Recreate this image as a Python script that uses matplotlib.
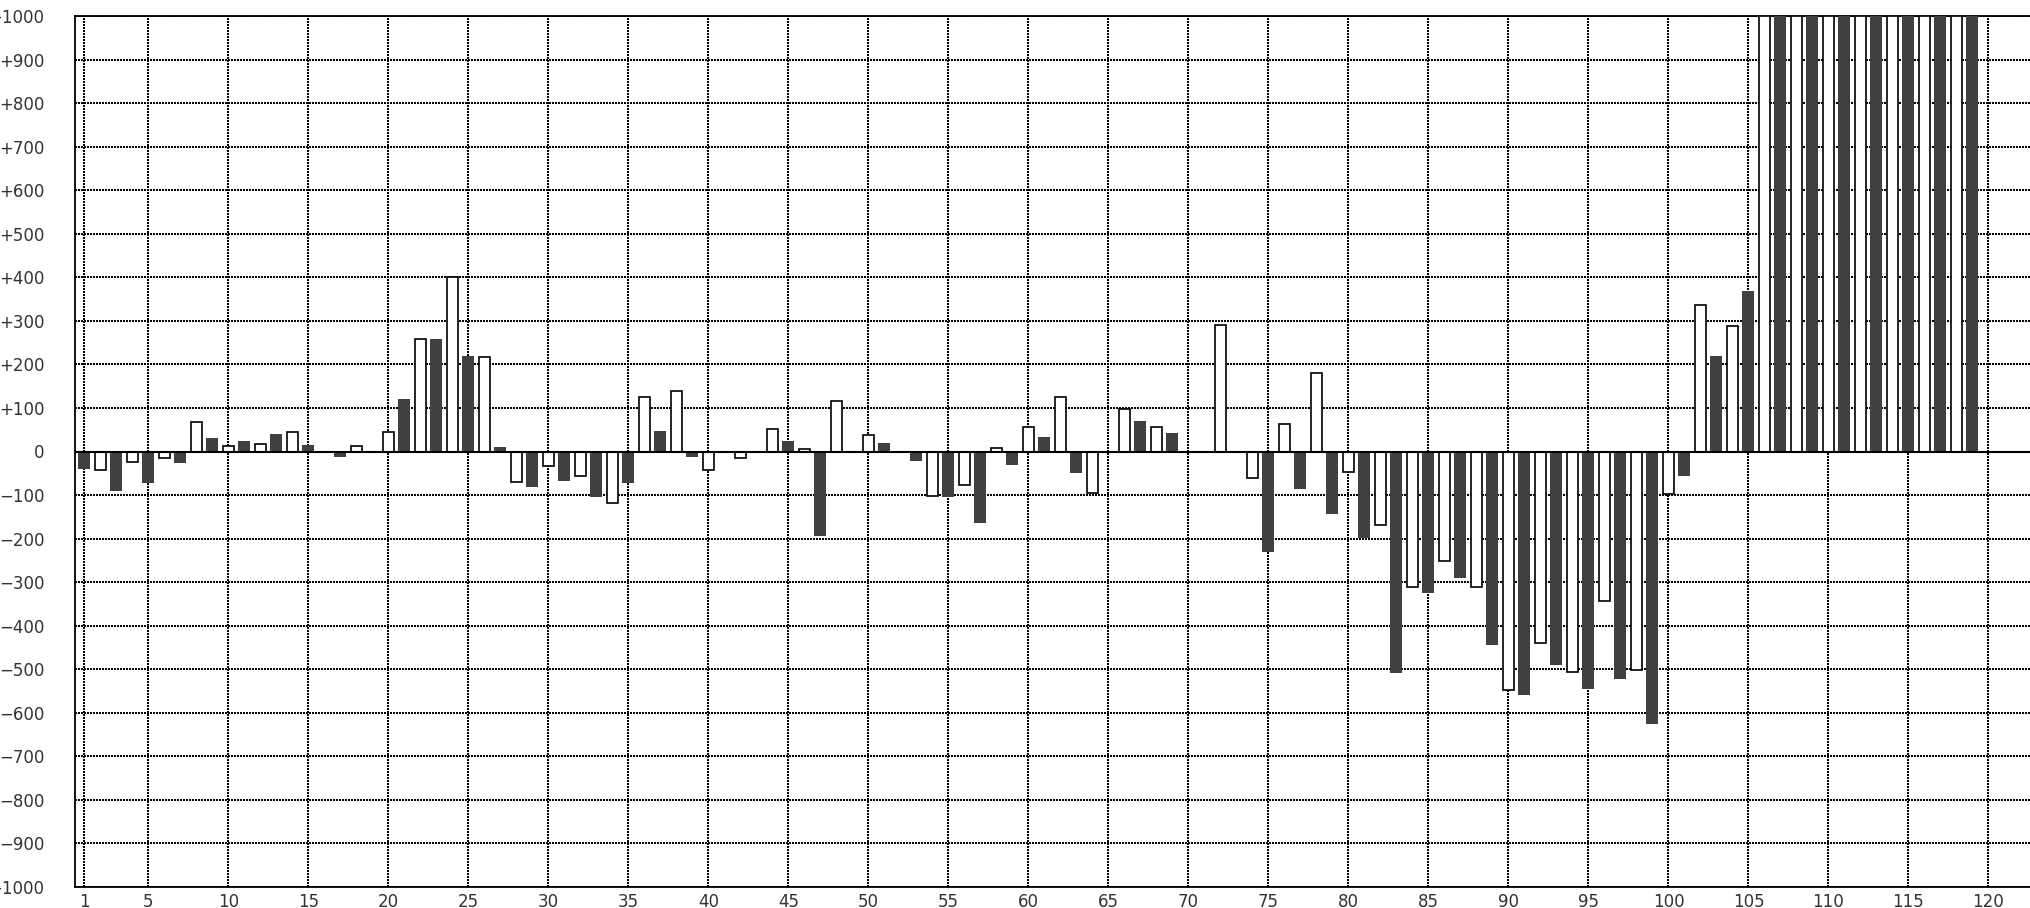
import numpy as np
import matplotlib
matplotlib.use("Agg")
import matplotlib.pyplot as plt
from matplotlib.ticker import FuncFormatter

# dark bars sit on odd positions, white (outlined) bars on even positions
dark_pos = list(range(1, 120, 2))
dark_vals = [-40, -91, -72, -27, 32, 23, 41, 14, -13, 0,
             121, 259, 220, 11, -81, -67, -105, -72, 48, -12,
             0, 0, 25, -193, 0, 20, -21, -105, -165, -30,
             34, -49, 0, 71, 43, 0, 0, -231, -85, -144,
             -199, -508, -326, -290, -445, -559, -491, -545, -522, -625,
             -57, 220, 369, 1000, 1000, 1000, 1000, 1000, 1000, 1000]

white_pos = list(range(2, 121, 2))
white_vals = [-42, -25, -15, 68, 12, 18, 45, 0, 13, 45,
              258, 400, 218, -71, -34, -57, -118, 126, 140, -43,
              -15, 52, 6, 116, 37, 0, -103, -76, 9, 57,
              126, -95, 98, 57, 0, 290, -60, 63, 181, -47,
              -169, -311, -252, -311, -548, -439, -507, -343, -502, -98,
              336, 288, 1000, 1000, 1000, 1000, 1000, 1000, 1000, 0]

x_ticks = [1] + list(range(5, 121, 5))
y_ticks = list(range(-1000, 1001, 100))

W, H = 2030, 908
fig = plt.figure(figsize=(W / 100, H / 100), dpi=100)
ax = fig.add_axes([75 / W, (H - 887) / H, 1 - 75 / W, (887 - 16) / H])

ax.bar(dark_pos, dark_vals, width=0.75, color="#404040", linewidth=0, zorder=3)
ax.bar(white_pos, white_vals, width=0.70, color="white", edgecolor="black",
       linewidth=1.2, zorder=3)
ax.axhline(0, color="black", linewidth=1.5, zorder=4)

ax.set_xlim(0.41, 0.41 + (W - 75) / 16.0)
ax.set_ylim(-1000, 1000)
ax.set_xticks(x_ticks)
ax.set_yticks(y_ticks)


def fmt_y(v, pos):
    v = int(round(v))
    if v > 0:
        return "+%d" % v
    if v < 0:
        return "\u2212%d" % (-v)
    return "0"


ax.yaxis.set_major_formatter(FuncFormatter(fmt_y))
ax.tick_params(axis="both", length=0, labelsize=12, colors="#333333")
ax.tick_params(axis="y", pad=22)
ax.tick_params(axis="x", pad=4)

# dotted grid: 2px dots, 2px gaps
ax.grid(True, color="black", linestyle=(0, (1, 1)), linewidth=1.44,
        antialiased=False, zorder=1)
ax.set_axisbelow(True)

for side in ["left", "top", "bottom"]:
    ax.spines[side].set_linewidth(1.3)
    ax.spines[side].set_color("black")
ax.spines["right"].set_visible(False)

fig.savefig("out.png", dpi=100)
